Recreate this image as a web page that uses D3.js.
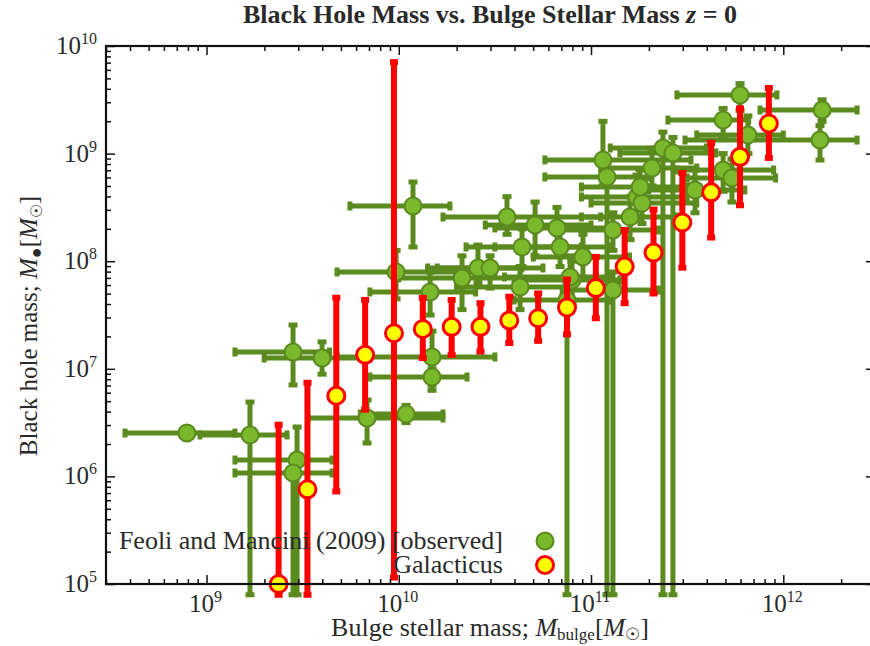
<!DOCTYPE html>
<html>
<head>
<meta charset="utf-8">
<script src="https://cdn.jsdelivr.net/npm/d3@7"></script>
<style>
  body { margin: 0; background: #fff; }
  svg { display: block; }
  text { font-family: "Liberation Serif", "Times New Roman", "DejaVu Serif", serif; fill: #2a2a2a; }
</style>
</head>
<body>
<svg id="chart" width="870" height="646"></svg>
<script>
// ---- Galacticus model: median black hole mass in bins of bulge mass (log10 Msun)
const galLogMbulge = [9.375, 9.525, 9.675, 9.825, 9.975, 10.125, 10.275, 10.425, 10.575,
                      10.725, 10.875, 11.025, 11.175, 11.325, 11.475, 11.625, 11.775, 11.925];
const galLogMbh    = [5.00, 5.88, 6.75, 7.13, 7.33, 7.37, 7.39, 7.39, 7.45,
                      7.47, 7.57, 7.75, 7.95, 8.08, 8.36, 8.64, 8.97, 9.28];
const galLogMbhLo  = [4.90, 4.90, 5.86, 6.62, 5.06, 7.10, 7.13, 7.16, 7.24,
                      7.26, 7.32, 7.47, 7.61, 7.70, 7.94, 8.22, 8.52, 8.96];
const galLogMbhHi  = [6.48, 6.87, 7.66, 7.64, 9.85, 7.66, 7.64, 7.61, 7.67,
                      7.70, 7.83, 8.04, 8.29, 8.48, 8.82, 9.10, 9.42, 9.61];

// ---- Feoli & Mancini (2009) observed galaxies (log10 Msun, with error ranges)
const fmLogMbulge   = [8.898, 9.226, 9.471, 9.450, 9.450, 9.601, 9.835, 10.038, 10.173, 10.173,
                       10.074, 9.986, 10.163, 10.329, 10.412, 10.475, 10.563, 10.641, 10.709, 10.823,
                       10.875, 10.631, 10.901, 10.958, 11.083, 11.062, 11.114, 11.203, 11.239, 11.114,
                       11.265, 11.255, 11.317, 11.374, 11.426, 11.541, 11.687, 11.816, 11.687, 11.733,
                       11.775, 12.202, 12.191, 10.891, 10.839];
const fmLogMbulgeLo = [8.576, 8.966, 9.148, 9.148, 9.148, 9.300, 9.528, 9.800, 9.850, 9.680,
                       9.746, 9.679, 9.850, 10.000, 10.200, 10.150, 10.230, 10.350, 10.450, 10.500,
                       10.600, 10.300, 10.600, 10.700, 10.760, 10.760, 10.850, 10.950, 10.950, 10.850,
                       11.000, 10.950, 11.050, 11.100, 11.150, 11.300, 11.400, 11.550, 11.450, 11.500,
                       11.447, 11.879, 11.489, 10.550, 10.500];
const fmLogMbulgeHi = [9.148, 9.419, 9.653, 9.653, 9.640, 9.850, 10.230, 10.230, 10.355, 10.500,
                       10.266, 10.500, 10.400, 10.630, 10.640, 10.750, 11.050, 10.950, 11.000, 11.100,
                       11.100, 10.900, 11.150, 11.200, 11.300, 11.520, 11.350, 11.450, 11.500, 11.350,
                       11.550, 11.500, 11.550, 11.600, 11.650, 11.800, 11.820, 12.000, 11.950, 11.960,
                       11.967, 12.384, 12.384, 11.100, 11.100];
const fmLogMbh      = [6.403, 6.385, 6.152, 6.032, 7.156, 7.100, 6.543, 6.580, 6.924, 7.110,
                       8.513, 7.900, 7.714, 7.844, 7.937, 7.937, 8.411, 8.132, 8.336, 8.309,
                       7.640, 7.760, 7.825, 8.039, 8.783, 8.941, 7.732, 8.411, 8.597, 8.290,
                       8.541, 8.690, 8.866, 9.052, 9.006, 8.662, 9.312, 9.173, 8.848, 8.773,
                       9.545, 9.405, 9.126, 7.853, 8.132];
const fmLogMbhLo    = [6.350, 4.900, 4.900, 4.900, 6.850, 6.950, 6.310, 6.500, 6.850, 6.800,
                       8.132, 7.650, 7.500, 7.550, 7.800, 7.750, 8.250, 7.950, 8.050, 8.150,
                       4.900, 7.550, 7.600, 7.850, 4.900, 8.700, 4.900, 8.200, 8.400, 8.100,
                       8.350, 8.500, 8.700, 4.900, 4.900, 8.450, 9.150, 9.000, 8.650, 8.550,
                       9.400, 9.300, 8.940, 7.650, 7.950];
const fmLogMbhHi    = [6.450, 6.691, 6.459, 6.150, 7.407, 7.250, 6.710, 6.660, 7.000, 7.350,
                       8.736, 8.100, 7.900, 8.050, 8.150, 8.050, 8.600, 8.300, 8.550, 8.500,
                       7.800, 7.950, 8.000, 8.250, 8.950, 9.300, 7.900, 8.600, 8.800, 8.450,
                       8.700, 8.850, 9.050, 9.200, 9.150, 8.850, 9.420, 9.350, 9.000, 8.950,
                       9.650, 9.500, 9.260, 8.050, 8.300];

// ---- axis ticks (decade exponents shown as labels)
const xTickExponents = [9, 10, 11, 12];
const yTickExponents = [5, 6, 7, 8, 9, 10];

const legendLabels = ["Feoli and Mancini (2009) [observed]", "Galacticus"];

const GREEN_LINE = "#5b8a1f", GREEN_FILL = "#7ab92c";
const RED = "#ff0000", YELLOW = "#ffff00";

const svg = d3.select("#chart");
const margin = { left: 106, right: 875, top: 46, bottom: 584 };

const x = d3.scaleLog().domain([3e8, 3e12]).range([margin.left, margin.right]);
const y = d3.scaleLog().domain([1e5, 1e10]).range([margin.bottom, margin.top]);
const p10 = v => Math.pow(10, v);

// minor tick positions: 2..9 times each decade inside the domain
function minorTicks(domain) {
  const out = [];
  const lo = Math.floor(Math.log10(domain[0])), hi = Math.ceil(Math.log10(domain[1]));
  for (let e = lo; e <= hi; e++)
    for (let k = 2; k <= 9; k++) {
      const v = k * Math.pow(10, e);
      if (v >= domain[0] && v <= domain[1]) out.push(v);
    }
  return out;
}

const plot = svg.append("g");

// ---- legend text (sits beneath the data)
const legend = svg.append("g").attr("class", "legend");
legend.selectAll("text").data(legendLabels).join("text")
  .attr("x", 503).attr("y", (d, i) => 549 + i * 24)
  .attr("text-anchor", "end").attr("font-size", 26).text(d => d);

// ---- observed points
const fm = fmLogMbulge.map((m, i) => ({
  x: p10(m), xlo: p10(fmLogMbulgeLo[i]), xhi: p10(fmLogMbulgeHi[i]),
  y: p10(fmLogMbh[i]), ylo: p10(fmLogMbhLo[i]), yhi: p10(fmLogMbhHi[i])
}));
const gFm = plot.append("g").attr("stroke", GREEN_LINE).attr("stroke-width", 5);
gFm.selectAll("line.h").data(fm).join("line").attr("class", "h")
  .attr("x1", d => x(d.xlo)).attr("x2", d => x(d.xhi))
  .attr("y1", d => y(d.y)).attr("y2", d => y(d.y));
gFm.selectAll("line.v").data(fm).join("line").attr("class", "v")
  .attr("x1", d => x(d.x)).attr("x2", d => x(d.x))
  .attr("y1", d => y(d.ylo)).attr("y2", d => y(d.yhi));
// end caps
const capsH = fm.flatMap(d => [{ px: x(d.xlo), py: y(d.y) }, { px: x(d.xhi), py: y(d.y) }]);
const capsV = fm.flatMap(d => [{ px: x(d.x), py: y(d.ylo) }, { px: x(d.x), py: y(d.yhi) }]);
gFm.selectAll("line.ch").data(capsH).join("line").attr("class", "ch")
  .attr("x1", d => d.px).attr("x2", d => d.px).attr("y1", d => d.py - 4.5).attr("y2", d => d.py + 4.5);
gFm.selectAll("line.cv").data(capsV).join("line").attr("class", "cv")
  .attr("x1", d => d.px - 4.5).attr("x2", d => d.px + 4.5).attr("y1", d => d.py).attr("y2", d => d.py);
plot.append("g").selectAll("circle").data(fm).join("circle")
  .attr("cx", d => x(d.x)).attr("cy", d => y(d.y)).attr("r", 8.5)
  .attr("fill", GREEN_FILL).attr("stroke", GREEN_LINE).attr("stroke-width", 2);

// ---- Galacticus model
const gal = galLogMbulge.map((m, i) => ({
  x: p10(m), y: p10(galLogMbh[i]), ylo: p10(galLogMbhLo[i]), yhi: p10(galLogMbhHi[i])
}));
const gGal = plot.append("g").attr("stroke", RED).attr("stroke-width", 6);
gGal.selectAll("line.v").data(gal).join("line").attr("class", "v")
  .attr("x1", d => x(d.x)).attr("x2", d => x(d.x))
  .attr("y1", d => y(d.ylo)).attr("y2", d => y(d.yhi));
const galCaps = gal.flatMap(d => [{ px: x(d.x), py: y(d.ylo) }, { px: x(d.x), py: y(d.yhi) }]);
gGal.selectAll("line.c").data(galCaps).join("line").attr("class", "c")
  .attr("x1", d => d.px - 4).attr("x2", d => d.px + 4).attr("y1", d => d.py).attr("y2", d => d.py);
plot.append("g").selectAll("circle").data(gal).join("circle")
  .attr("cx", d => x(d.x)).attr("cy", d => y(d.y)).attr("r", 8.5)
  .attr("fill", YELLOW).attr("stroke", RED).attr("stroke-width", 3);

// ---- legend markers
legend.append("circle").attr("cx", 545).attr("cy", 541).attr("r", 8.5)
  .attr("fill", GREEN_FILL).attr("stroke", GREEN_LINE).attr("stroke-width", 2);
legend.append("circle").attr("cx", 545).attr("cy", 565).attr("r", 8.5)
  .attr("fill", YELLOW).attr("stroke", RED).attr("stroke-width", 3);

// ---- axes: inward ticks on all four sides
const xMaj = xTickExponents.map(p10), yMaj = yTickExponents.map(p10);
const xMin = minorTicks(x.domain()), yMin = minorTicks(y.domain());
function addAxis(gen, scale, vals, size, transform) {
  const g = svg.append("g").attr("transform", transform)
    .call(gen(scale).tickValues(vals).tickSize(size).tickSizeOuter(0).tickFormat(""));
  g.select(".domain").remove();
  g.selectAll("line").attr("stroke", "#111").attr("stroke-width", 1.5);
}
addAxis(d3.axisBottom, x, xMaj, -9, `translate(0,${margin.bottom})`);
addAxis(d3.axisBottom, x, xMin, -5, `translate(0,${margin.bottom})`);
addAxis(d3.axisTop, x, xMaj, -9, `translate(0,${margin.top})`);
addAxis(d3.axisTop, x, xMin, -5, `translate(0,${margin.top})`);
addAxis(d3.axisLeft, y, yMaj, -9, `translate(${margin.left},0)`);
addAxis(d3.axisLeft, y, yMin, -5, `translate(${margin.left},0)`);
addAxis(d3.axisRight, y, yMaj, -9, `translate(${margin.right},0)`);
addAxis(d3.axisRight, y, yMin, -5, `translate(${margin.right},0)`);

svg.append("rect")
  .attr("x", margin.left).attr("y", margin.top)
  .attr("width", margin.right - margin.left).attr("height", margin.bottom - margin.top)
  .attr("fill", "none").attr("stroke", "#111").attr("stroke-width", 2.2);

// ---- tick labels (10 with superscript exponent)
function powerLabel(sel) {
  sel.append("tspan").attr("font-size", 25).text("10");
  sel.append("tspan").attr("font-size", 16).attr("dy", -10).text(d => d);
}
svg.append("g").selectAll("text").data(xTickExponents).join("text")
  .attr("x", d => x(p10(d)) - 1).attr("y", 612).attr("text-anchor", "middle")
  .call(powerLabel);
svg.append("g").selectAll("text").data(yTickExponents).join("text")
  .attr("x", 97).attr("y", d => y(p10(d)) + 8).attr("text-anchor", "end")
  .call(powerLabel);

// ---- titles
svg.append("text").attr("x", 490).attr("y", 23).attr("text-anchor", "middle")
  .attr("font-size", 26).attr("font-weight", "bold")
  .html('Black Hole Mass vs. Bulge Stellar Mass <tspan font-style="italic">z</tspan> = 0');

const xl = svg.append("text").attr("x", 490).attr("y", 636).attr("text-anchor", "middle").attr("font-size", 26);
xl.append("tspan").text("Bulge stellar mass; ");
xl.append("tspan").attr("font-style", "italic").text("M");
xl.append("tspan").attr("font-size", 17).attr("dy", 4).text("bulge");
xl.append("tspan").attr("dy", -4).text("[");
xl.append("tspan").attr("font-style", "italic").text("M");
xl.append("tspan").attr("font-size", 17).attr("dy", 4).text("☉");
xl.append("tspan").attr("dy", -4).text("]");

const yl = svg.append("text").attr("transform", "translate(37,326) rotate(-90)")
  .attr("text-anchor", "middle").attr("font-size", 25);
yl.append("tspan").text("Black hole mass; ");
yl.append("tspan").attr("font-style", "italic").text("M");
yl.append("tspan").attr("font-size", 18).attr("dy", 5).text("●");
yl.append("tspan").attr("dy", -5).text("[");
yl.append("tspan").attr("font-style", "italic").text("M");
yl.append("tspan").attr("font-size", 16).attr("dy", 5).text("☉");
yl.append("tspan").attr("dy", -5).text("]");
</script>
</body>
</html>
